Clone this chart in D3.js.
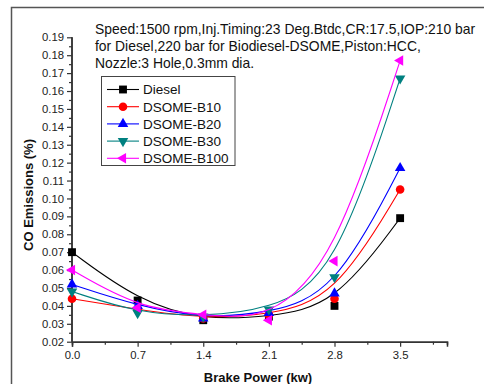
<!DOCTYPE html>
<html><head><meta charset="utf-8">
<script src="https://cdn.jsdelivr.net/npm/d3@7"></script>
<style>
body{margin:0;background:#fff}
svg{display:block;font-family:"Liberation Sans",Arial,sans-serif}
</style></head><body>
<script>
const powers=[0,0.7,1.4,2.1,2.8,3.5];
const seriesNames=["Diesel","DSOME-B10","DSOME-B20","DSOME-B30","DSOME-B100"];
const diesel=[0.070,0.043,0.032,0.034,0.040,0.089];
const b10=[0.044,0.038,0.033,0.035,0.044,0.105];
const b20=[0.052,0.040,0.033,0.036,0.047,0.117];
const b30=[0.048,0.036,0.034,0.038,0.056,0.167];
const b100=[0.060,0.039,0.035,0.032,0.065,0.177];
const xTicks=[0,0.7,1.4,2.1,2.8,3.5];
const xMinorTicks=[0.35,1.05,1.75,2.45,3.15,3.85];
const yTicks=[0.02,0.03,0.04,0.05,0.06,0.07,0.08,0.09,0.10,0.11,0.12,0.13,0.14,0.15,0.16,0.17,0.18,0.19];
const yMinorTicks=[0.025,0.035,0.045,0.055,0.065,0.075,0.085,0.095,0.105,0.115,0.125,0.135,0.145,0.155,0.165,0.175,0.185];
const annotation=["Speed:1500 rpm,Inj.Timing:23 Deg.Btdc,CR:17.5,IOP:210 bar","for Diesel,220 bar for Biodiesel-DSOME,Piston:HCC,","Nozzle:3 Hole,0.3mm dia."];
const xTitle="Brake Power (kw)";
const yTitle="CO Emissions (%)";

const seriesValues=[diesel,b10,b20,b30,b100];
const colors=["#000000","#ff0000","#0000ff","#008080","#ff00ff"];
const symTypes=[d3.symbolSquare,d3.symbolCircle,d3.symbolTriangle,d3.symbolTriangle,d3.symbolTriangle];
const symRot=[0,0,0,180,-90];
const symSize=[62,58,48,48,48];

const W=484,H=384;
const svg=d3.select("body").append("svg").attr("width",W).attr("height",H);

// outer frame
svg.append("path").attr("d","M11.5,390V7.5H490").attr("fill","none").attr("stroke","#555").attr("stroke-width",1.5);

const x=d3.scaleLinear().domain([0,4.0]).range([72,447]);
const y=d3.scaleLinear().domain([0.02,0.19]).range([341.7,37.3]);

// axes
const gx=svg.append("g").attr("transform","translate(0,341.7)");
gx.call(d3.axisBottom(x).tickValues(xTicks).tickFormat(d3.format(".1f")).tickSize(5).tickPadding(4));
gx.append("g").call(d3.axisBottom(x).tickValues(xMinorTicks).tickFormat("").tickSize(3));
const gy=svg.append("g").attr("transform","translate(72,0)");
gy.call(d3.axisLeft(y).tickValues(yTicks).tickFormat(d3.format(".2f")).tickSize(5).tickPadding(3));
gy.append("g").call(d3.axisLeft(y).tickValues(yMinorTicks).tickFormat("").tickSize(3));
svg.selectAll(".domain").attr("stroke","#333").attr("stroke-width",1.5);
svg.selectAll(".tick line").attr("stroke","#333").attr("stroke-width",1.2);
svg.selectAll(".tick text").attr("font-size",11.3).attr("fill","#222").attr("font-family","Liberation Sans,Arial,sans-serif");
gy.selectAll(".domain").attr("d",`M-0,${y(0.19)}H0V${y(0.02)}H-0`);

// titles
svg.append("text").attr("x",258).attr("y",382).attr("text-anchor","middle")
  .attr("font-size",13).attr("font-weight","bold").attr("fill","#111").text(xTitle);
svg.append("text").attr("transform","translate(33,195) rotate(-90)").attr("text-anchor","middle")
  .attr("font-size",13).attr("font-weight","bold").attr("fill","#111").text(yTitle);

// annotation
annotation.forEach((t,i)=>{
  svg.append("text").attr("x",95).attr("y",34+i*16.8).attr("font-size",13.9).attr("fill","#111").text(t);
});

// series
const line=d3.line().x((d,i)=>x(powers[i])).y(d=>y(d)).curve(d3.curveBasis);
seriesValues.forEach((vals,si)=>{
  const g=svg.append("g");
  g.append("path").attr("d",line(vals)).attr("fill","none").attr("stroke",colors[si]).attr("stroke-width",1.1);
  g.selectAll("path.m").data(vals).join("path").attr("class","m")
    .attr("d",d3.symbol().type(symTypes[si]).size(symSize[si]))
    .attr("transform",(d,i)=>`translate(${x(powers[i])},${y(d)}) rotate(${symRot[si]})`)
    .attr("fill",colors[si]);
});

// legend
const lg=svg.append("g");
lg.append("rect").attr("x",101.5).attr("y",76.5).attr("width",133.5).attr("height",89).attr("fill","#fff").attr("stroke","#444").attr("stroke-width",1);
seriesNames.forEach((n,i)=>{
  const yy=89.5+i*17.2;
  lg.append("line").attr("x1",107).attr("x2",139).attr("y1",yy).attr("y2",yy).attr("stroke",colors[i]).attr("stroke-width",1.1);
  lg.append("path").attr("d",d3.symbol().type(symTypes[i]).size(symSize[i])).attr("transform",`translate(123,${yy}) rotate(${symRot[i]})`).attr("fill",colors[i]);
  lg.append("text").attr("x",143).attr("y",yy+4.8).attr("font-size",13.5).attr("fill","#111").text(n);
});
</script>
</body></html>
